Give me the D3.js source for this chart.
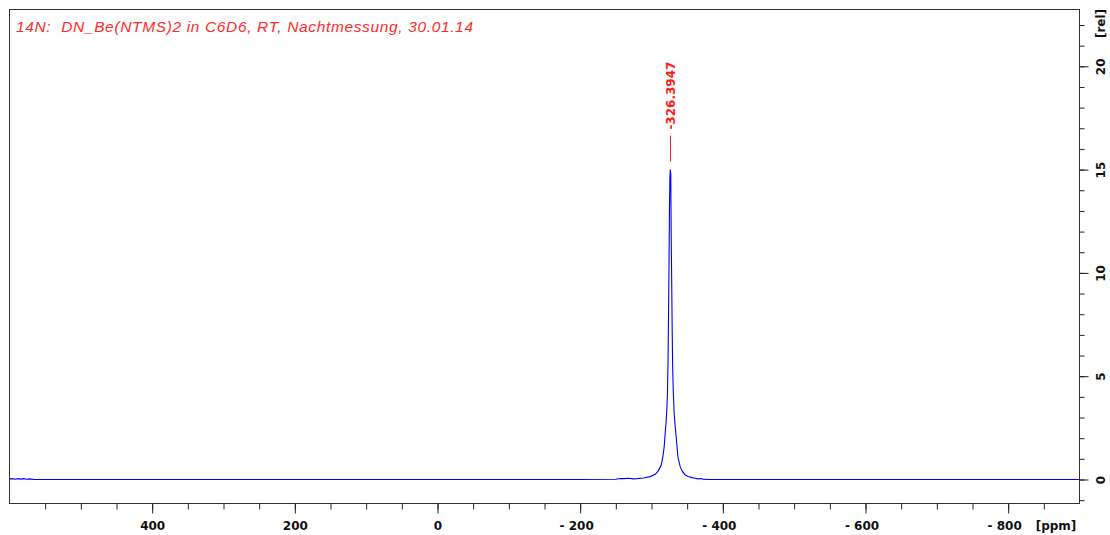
<!DOCTYPE html>
<html>
<head>
<meta charset="utf-8">
<script src="https://cdn.jsdelivr.net/npm/d3@7"></script>
<style>
  html, body { margin: 0; padding: 0; background: #fff; }
  svg { display: block; }
</style>
</head>
<body>
<svg id="chart" width="1110" height="535"></svg>
<script>
// 14N spectrum: chemical shift (ppm) and relative intensity
const ppmValues = [600, 596, 592, 588, 584, 580, 576, 572, 565, 500, 400, 200, 0, -200,
  -250, -256, -262, -268, -274, -280, -288.8, -298.2, -305.2, -309.8, -313.6,
  -316.0, -317.8, -319.2, -320.5, -321.5, -322.4, -323.2, -323.8, -324.5, -325.2,
  -325.8, -326.3947, -327.0, -327.6, -328.3, -329.0, -329.7, -330.5, -331.2, -331.8,
  -333.2, -334.6, -337.0, -340.2, -343.5, -347.2, -351.5, -356.6, -361, -365,
  -369, -372, -380, -500, -700, -900];
const intensity = [0.02, 0.04, 0.01, 0.04, 0.02, 0.04, 0.01, 0.03, 0.00, 0, 0, 0, 0, 0,
  0.01, 0.05, 0.04, 0.06, 0.03, 0.04, 0.07, 0.14, 0.25, 0.43, 0.70,
  1.10, 1.59, 2.24, 2.80, 3.40, 4.20, 5.80, 7.80, 10.2, 13.1,
  14.6, 15.0, 14.8, 11.8, 9.66, 7.20, 5.40, 4.30, 3.70, 3.20,
  2.55, 2.07, 1.10, 0.62, 0.38, 0.22, 0.14, 0.09, 0.06, 0.03,
  0.05, 0.02, 0, 0, 0, 0];

// Picked peak
const peakPpm = -326.3947;
const peakLabel = "-326.3947";

// Axis ticks
const xMajorTicks = [400, 200, 0, -200, -400, -600, -800];
const xMinorTicks = d3.range(550, -851, -50);
const yMajorTicks = [0, 5, 10, 15, 20];
const yMinorTicks = d3.range(-1, 23, 1);

const titleText = "14N:  DN_Be(NTMS)2 in C6D6, RT, Nachtmessung, 30.01.14";
const xUnit = "[ppm]";
const yUnit = "[rel]";

const svg = d3.select("#chart");
const frame = { left: 9.5, top: 9.5, right: 1079.5, bottom: 503.5 };

const x = d3.scaleLinear().domain([600, -900]).range([frame.left, frame.right]);
const y = d3.scaleLinear().domain([-1.162, 22.75]).range([frame.bottom, frame.top]);

const boldFont = "'DejaVu Sans', sans-serif";

// Spectrum trace
const points = ppmValues.map((p, i) => [p, intensity[i]]);
svg.append("path")
  .datum(points)
  .attr("fill", "none")
  .attr("stroke", "#0000ff")
  .attr("stroke-width", 1.1)
  .attr("d", d3.line().x(d => x(d[0])).y(d => y(d[1])));

// Frame
svg.append("rect")
  .attr("x", frame.left).attr("y", frame.top)
  .attr("width", frame.right - frame.left)
  .attr("height", frame.bottom - frame.top)
  .attr("fill", "none")
  .attr("stroke", "#333")
  .attr("stroke-width", 1);

// Bottom axis: minor and major ticks
const xMinorAxis = d3.axisBottom(x).tickValues(xMinorTicks).tickSize(6).tickFormat("");
svg.append("g").attr("transform", `translate(0,${frame.bottom})`).call(xMinorAxis)
  .call(g => g.select(".domain").remove())
  .call(g => g.selectAll("line").attr("stroke", "#222"));

const xMajorAxis = d3.axisBottom(x).tickValues(xMajorTicks).tickSize(10)
  .tickFormat(d => d < 0 ? "- " + Math.abs(d) : String(d));
svg.append("g").attr("transform", `translate(0,${frame.bottom})`).call(xMajorAxis)
  .call(g => g.select(".domain").remove())
  .call(g => g.selectAll("line").attr("stroke", "#222"))
  .call(g => g.selectAll("text")
    .attr("y", 0).attr("dy", null)
    .attr("transform", "translate(0,26.5)")
    .attr("dx", d => d < 0 ? -4 : 0)
    .attr("font-family", boldFont)
    .attr("font-weight", "bold")
    .attr("font-size", 12)
    .attr("fill", "#111"));

svg.append("text")
  .attr("x", 1056).attr("y", 530)
  .attr("text-anchor", "middle")
  .attr("font-family", boldFont).attr("font-weight", "bold").attr("font-size", 12)
  .attr("fill", "#111")
  .text(xUnit);

// Right axis: minor and major ticks
const yMinorAxis = d3.axisRight(y).tickValues(yMinorTicks).tickSize(5).tickFormat("");
svg.append("g").attr("transform", `translate(${frame.right},0)`).call(yMinorAxis)
  .call(g => g.select(".domain").remove())
  .call(g => g.selectAll("line").attr("stroke", "#222"));

const yMajorAxis = d3.axisRight(y).tickValues(yMajorTicks).tickSize(9).tickFormat(d3.format("d"));
svg.append("g").attr("transform", `translate(${frame.right},0)`).call(yMajorAxis)
  .call(g => g.select(".domain").remove())
  .call(g => g.selectAll("line").attr("stroke", "#222"))
  .call(g => g.selectAll("text")
    .attr("x", 0).attr("dy", null)
    .attr("transform", "translate(25.5,0) rotate(-90)")
    .attr("text-anchor", "middle")
    .attr("font-family", boldFont)
    .attr("font-weight", "bold")
    .attr("font-size", 12)
    .attr("fill", "#111"));

svg.append("text")
  .attr("transform", "translate(1105,23.5) rotate(-90)")
  .attr("text-anchor", "middle")
  .attr("font-family", boldFont).attr("font-weight", "bold").attr("font-size", 12)
  .attr("fill", "#111")
  .text(yUnit);

// Peak marker and label
const px = Math.round(x(peakPpm)) + 0.5;
const peakTop = y(d3.max(intensity));
svg.append("line")
  .attr("x1", px).attr("x2", px)
  .attr("y1", peakTop - 34).attr("y2", peakTop - 8)
  .attr("stroke", "#ff2020").attr("stroke-width", 1);

svg.append("text")
  .attr("transform", `translate(${px + 4},${peakTop - 40}) rotate(-90)`)
  .attr("text-anchor", "start")
  .attr("font-family", boldFont).attr("font-weight", "bold").attr("font-size", 12)
  .attr("fill", "#ff1a1a")
  .text(peakLabel);

// Title (whitespace kept as written)
svg.append("text")
  .attr("x", 16).attr("y", 31.5)
  .attr("xml:space", "preserve")
  .style("white-space", "pre")
  .attr("font-family", "'Liberation Sans', Arial, sans-serif")
  .attr("font-style", "italic")
  .attr("font-size", 15.5)
  .attr("textLength", 457)
  .attr("lengthAdjust", "spacing")
  .attr("fill", "#ff2a2a")
  .text(titleText);
</script>
</body>
</html>
